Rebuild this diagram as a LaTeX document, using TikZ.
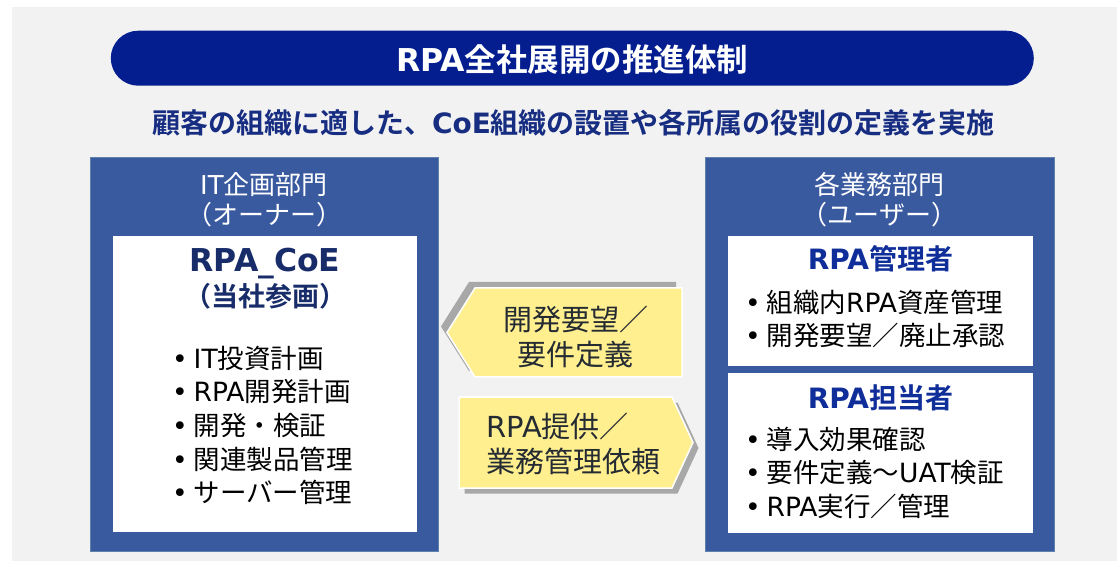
\documentclass[tikz,border=0pt]{standalone}
\usepackage{fontspec}
\setmainfont{Noto Sans CJK JP}[BoldFont={Noto Sans CJK JP Bold}]
\newfontfamily\dvfont{DejaVu Sans}
\newcommand\ltn[1]{{\dvfont #1}}
\newcommand\bulletmark{\makebox[21.5pt][l]{\dvfont •}}
\definecolor{bggray}{HTML}{F2F2F2}
\definecolor{titleblue}{HTML}{051E8F}
\definecolor{subnavy}{HTML}{172D82}
\definecolor{boxblue}{HTML}{3A5AA0}
\definecolor{boxedge}{HTML}{5F82AA}
\definecolor{coenavy}{HTML}{182C6A}
\definecolor{roleblue}{HTML}{102E9A}
\definecolor{yel}{HTML}{FFEF8F}
\definecolor{arrtext}{HTML}{252B33}
\definecolor{shadowgray}{HTML}{A8A8A8}
\begin{document}
\begin{tikzpicture}[x=1pt,y=-1pt,
  tx/.style={inner sep=0pt, anchor=base},
  txl/.style={inner sep=0pt, anchor=base west},
  banner/.style={fill=titleblue, rounded corners=27.5pt, minimum width=923pt, minimum height=55pt, inner sep=0pt},
  dept/.style={fill=boxblue, draw=boxedge, line width=0.8pt, minimum height=394pt, inner sep=0pt},
  panel/.style={fill=white, inner sep=0pt},
  hdr/.style={text=white, font=\fontsize{26}{30}\selectfont},
  body/.style={text=black, font=\fontsize{26.5}{30}\selectfont},
  rolename/.style={text=roleblue, font=\bfseries\fontsize{28}{32}\selectfont},
  arrowbox/.style={fill=yel, draw=white, line width=1.5pt, line join=miter},
  arrowshadow/.style={fill=shadowgray},
  arrowtxt/.style={text=arrtext, font=\fontsize{29}{34}\selectfont}
]
\useasboundingbox (0,0) rectangle (1117,561);
\fill[white] (0,0) rectangle (1117,561);
\fill[bggray] (12,7) rectangle (1117,561);

% title banner
\node[banner] (banner) at (572.3,58.2) {};
\node[tx, text=white, font=\bfseries\fontsize{31.5}{36}\selectfont] (title) at (572.3,71.7) {\ltn{RPA}全社展開の推進体制};
\node[tx, text=subnavy, font=\bfseries\fontsize{28}{32}\selectfont] (sub) at (573.5,133.5) {顧客の組織に適した、\ltn{CoE}組織の設置や各所属の役割の定義を実施};

% department boxes
\node[dept, minimum width=348pt] (left) at (264,354) {};
\node[dept, minimum width=349pt] (right) at (879.5,354) {};
\node[tx, hdr] (lh1) at (264,194.5) {\ltn{IT}企画部門};
\node[tx, hdr] (lh2) at (264,224.5) {（オーナー）};
\node[tx, hdr] (rh1) at (879.5,194.5) {各業務部門};
\node[tx, hdr] (rh2) at (879.5,224.5) {（ユーザー）};

% white panels
\node[panel, minimum width=304pt, minimum height=296pt] (coe) at (265,384) {};
\node[panel, minimum width=305pt, minimum height=130pt] (mgr) at (880.5,301) {};
\node[panel, minimum width=305pt, minimum height=160pt] (op) at (880.5,453) {};

% left panel text
\node[tx, text=coenavy, font=\bfseries\fontsize{31.5}{34}\selectfont] (coet) at (265,272) {\ltn{RPA\_CoE}};
\node[tx, text=coenavy, font=\bfseries\fontsize{27}{32}\selectfont] (coes) at (265,306.5) {（当社参画）};
\node[txl, body] (l1) at (172,368.5) {\bulletmark\ltn{IT}投資計画};
\node[txl, body] (l2) at (172,402) {\bulletmark\ltn{RPA}開発計画};
\node[txl, body] (l3) at (172,435.5) {\bulletmark 開発・検証};
\node[txl, body] (l4) at (172,469) {\bulletmark 関連製品管理};
\node[txl, body] (l5) at (172,502.5) {\bulletmark サーバー管理};

% right top panel
\node[tx, rolename] (mgrt) at (880.5,269.5) {\ltn{RPA}管理者};
\node[txl, body] (r1) at (745,312.5) {\bulletmark 組織内\ltn{RPA}資産管理};
\node[txl, body] (r2) at (745,346) {\bulletmark 開発要望／廃止承認};

% right bottom panel
\node[tx, rolename] (opt) at (880.5,409) {\ltn{RPA}担当者};
\node[txl, body] (r3) at (745,449) {\bulletmark 導入効果確認};
\node[txl, body] (r4) at (745,482.5) {\bulletmark 要件定義～\ltn{UAT}検証};
\node[txl, body] (r5) at (745,516) {\bulletmark\ltn{RPA}実行／管理};

% upper arrow (pointing left)
\fill[arrowshadow] (676,282) -- (469,282) -- (441,326.5) -- (469,371) -- (676,371) -- cycle;
\draw[arrowbox] (682,288) -- (475,288) -- (447,332.5) -- (475,377) -- (682,377) -- cycle;
\node[tx, arrowtxt] (a1) at (575.5,330.5) {開発要望／};
\node[tx, arrowtxt] (a2) at (575.5,366) {要件定義};

% lower arrow (pointing right)
\fill[arrowshadow] (464.5,402.5) -- (677.5,402.5) -- (698.5,448) -- (677.5,493.5) -- (464.5,493.5) -- cycle;
\draw[arrowbox] (459,397) -- (672,397) -- (693,442.5) -- (672,488) -- (459,488) -- cycle;
\node[txl, arrowtxt] (b1) at (486,437.5) {\ltn{RPA}提供／};
\node[txl, arrowtxt] (b2) at (486,472.5) {業務管理依頼};
\end{tikzpicture}
\end{document}
